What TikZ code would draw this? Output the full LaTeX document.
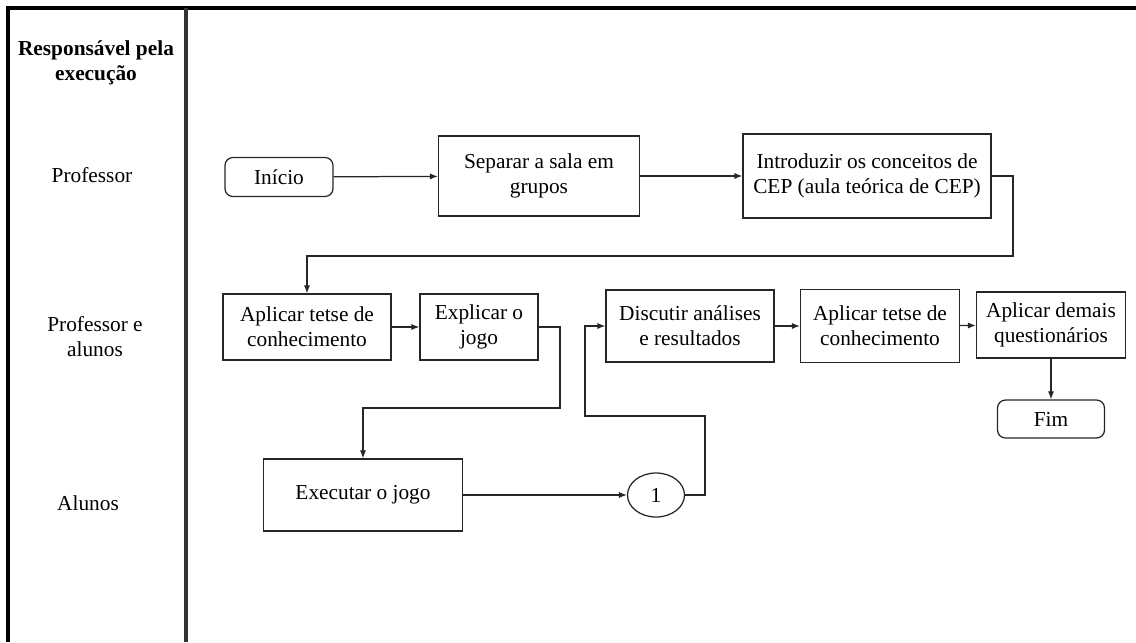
\documentclass[tikz,border=0pt]{standalone}
\usepackage{fontspec}
\setmainfont{Liberation Serif}
\usepackage{tikz}
\usetikzlibrary{arrows.meta, shapes.geometric}

\begin{document}
\begin{tikzpicture}[
      x=0.5625pt, y=-0.5625pt,
      font=\fontsize{12}{14}\selectfont, >={Latex[length=4.5pt,width=3.5pt]},
      sz/.style 2 args={minimum width=#1*0.5625pt, minimum height=#2*0.5625pt},
      box/.style={draw=black!85, line width=0.7pt, align=center, inner sep=0pt},
      term/.style={box, rounded corners=4.5pt},
      conn/.style={box, ellipse},
      lane/.style={align=center},
      frame/.style={line width=1.8pt},
      flow/.style={->, line width=0.7pt, draw=black!85},
    ]
      \useasboundingbox (0,0) rectangle (1136,642);

      % swimlane frame
      \draw[frame] (8,642) -- (8,8) -- (1136,8);
      \draw[frame, draw=black!80] (186,8) -- (186,642);

      \node[lane, font=\fontsize{12}{14}\selectfont\bfseries] (resp) at (96,63) {Responsável pela\\ execução};
      \node[lane] (lprof) at (92,175) {Professor};
      \node[lane] (lboth) at (95,337) {Professor e\\ alunos};
      \node[lane] (lal)   at (88,503) {Alunos};

      % professor
      \node[term, sz={108}{39}] (inicio) at (279,177) {Início};
      \node[box, sz={201}{80}] (separar) at (539,176) {Separar a sala em\\ grupos};
      \node[box, sz={248}{84}] (introd) at (867,176) {Introduzir os conceitos de\\ CEP (aula teórica de CEP)};

      % professor e alunos
      \node[box, sz={168}{66}] (testeA) at (307,327) {Aplicar tetse de\\ conhecimento};
      \node[box, sz={118}{66}] (explicar) at (479,327) {Explicar o\\ jogo};
      \node[box, sz={168}{72}] (discutir) at (690,326) {Discutir análises\\ e resultados};
      \node[box, sz={159}{73}] (testeB) at (880,326) {Aplicar tetse de\\ conhecimento};
      \node[box, sz={149}{66}] (demais) at (1051,325) {Aplicar demais\\ questionários};
      \node[term, sz={107}{38}] (fim) at (1051,419) {Fim};

      % alunos
      \node[box, sz={199}{72}] (executar) at (363,495) {Executar o jogo};
      \node[conn, sz={57}{44}] (um) at (656,495) {1};

      \coordinate (k1) at (1013,256);
      \coordinate (k2) at (560,408);
      \coordinate (k3) at (705,416);
      \coordinate (k4) at (585,416);

      \draw[flow] (inicio) -- (separar);
      \draw[flow] (separar) -- (introd);
      \draw[flow] (introd.east) -| (k1) -| (testeA.north);
      \draw[flow] (testeA) -- (explicar);
      \draw[flow] (explicar.east) -| (k2) -| (executar.north);
      \draw[flow] (executar) -- (um);
      \draw[flow] (um.east) -| (k3) -- (k4) |- (discutir.west);
      \draw[flow] (discutir) -- (testeB);
      \draw[flow] (testeB) -- (demais);
      \draw[flow] (demais) -- (fim);
    \end{tikzpicture}
\end{document}
